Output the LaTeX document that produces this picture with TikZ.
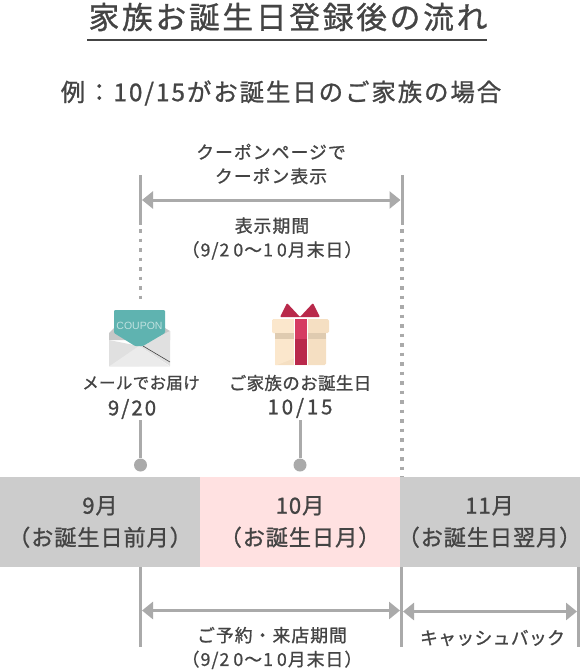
\documentclass[tikz,border=0pt]{standalone}
\usepackage{fontspec}
\setmainfont[FakeBold=0.8]{Noto Sans CJK JP}
\newfontfamily\titlefont[LetterSpace=9,FakeBold=0.9]{Noto Sans CJK JP}
\newfontfamily\subfont[LetterSpace=8,FakeBold=1]{Noto Sans CJK JP}
\newfontfamily\smallfont[LetterSpace=6,FakeBold=1]{Noto Sans CJK JP}
\newfontfamily\eventfont[LetterSpace=2,FakeBold=1]{Noto Sans CJK JP}
\newfontfamily\monthfont[LetterSpace=4,FakeBold=1]{Noto Sans CJK JP}
\newfontfamily\datefont[LetterSpace=14,FakeBold=1]{Noto Sans CJK JP}
\newfontfamily\dateshort[LetterSpace=10,FakeBold=1]{Noto Sans CJK JP}
\newfontfamily\couponfont{Liberation Sans}
\usetikzlibrary{arrows.meta}
\definecolor{ink}{HTML}{444444}
\definecolor{rulegray}{HTML}{AAAAAA}
\definecolor{bargray}{HTML}{CCCCCC}
\definecolor{barpink}{HTML}{FFE1E1}
\definecolor{teal1}{HTML}{5FB3B0}
\definecolor{gift1}{HTML}{FBE7CC}
\definecolor{gift2}{HTML}{F5DFC2}
\definecolor{gift3}{HTML}{DFCBB0}
\definecolor{ribbon}{HTML}{B9294B}
\definecolor{ribbonl}{HTML}{D63C62}
\tikzset{
  x=1pt,y=-1pt,
  small/.style={text=ink,font=\smallfont\fontsize{17.8}{24}\selectfont,align=center,inner sep=0pt},
  event/.style={text=ink,font=\eventfont\fontsize{17.5}{20}\selectfont,align=center,inner sep=0pt},
  month/.style={text=ink,font=\monthfont\fontsize{22.2}{32}\selectfont,align=center,inner sep=0pt},
  bar/.style={inner sep=0pt,minimum height=90pt,anchor=north west},
  vline/.style={draw=rulegray,line width=3pt},
  dotline/.style={draw=rulegray,line width=3.5pt,dash pattern=on 3.5pt off 6pt},
  span/.style={draw=rulegray,line width=3pt,{Triangle[length=11pt,width=17pt]}-{Triangle[length=11pt,width=17pt]}},
  pin/.style={circle,fill=rulegray,minimum size=13pt,inner sep=0pt},
}
\begin{document}
\begin{tikzpicture}
\useasboundingbox (0,0) rectangle (580,670);
% title
\node[inner sep=0pt,text=ink,font=\titlefont\fontsize{30.7}{32}\selectfont] (title) at (288,17) {家族お誕生日登録後の流れ};
\coordinate (tl) at (87,40); \coordinate (tr) at (487,40);
\draw[draw=ink,line width=1.5pt] (tl) -- (tr);
\node[inner sep=0pt,text=ink,font=\subfont\fontsize{24.4}{26}\selectfont] (sub) at (281,93) {例：10/15がお誕生日のご家族の場合};
% bars
\node[bar,fill=bargray,minimum width=200pt] (sep) at (0,477) {};
\node[bar,fill=barpink,minimum width=200pt] (oct) at (200,477) {};
\node[bar,fill=bargray,minimum width=180pt] (nov) at (400,477) {};
\node[month] (m9) at (100,522) {9月\\（お誕生日前月）};
\node[month] (m10) at (300,522) {10月\\（お誕生日月）};
\node[month] (m11) at (489.5,522) {11月\\（お誕生日翌月）};
% top guides
\coordinate (a1) at (140.5,175); \coordinate (a2) at (140.5,225); \coordinate (a3) at (140.5,229); \coordinate (a4) at (140.5,302);
\coordinate (b1) at (402,175); \coordinate (b2) at (402,225); \coordinate (b3) at (402,229); \coordinate (b4) at (402,477);
\draw[vline] (a1) -- (a2); \draw[vline] (b1) -- (b2);
\draw[dotline] (a3) -- (a4); \draw[dotline] (b3) -- (b4);
\coordinate (sl) at (142,200); \coordinate (sr) at (400.5,200);
\draw[span] (sl) -- (sr);
\node[small] (lab1) at (271,164) {クーポンページで\\クーポン表示};
\node[small] (lab2) at (272,238.5) {表示期間\\（9/\kern1pt 2\kern4pt 0\kern1pt ～\kern1pt 1\kern4pt 0月末日）};
% envelope
\fill[black!22] (109,333) -- (114,328) -- (165,328) -- (170,331) -- (170,340) -- (109,340) -- cycle;
\fill[black!12] (139,346) -- (170,331) -- (170,366) -- cycle;
\fill[black!12] (109,340) -- (139,346) -- (139,366) -- (109,366) -- cycle;
\fill[black!8] (109,366.5) -- (139,346) -- (170,366.5) -- cycle;
\draw[ink,line width=.6pt] (143,346) -- (170,362);
\fill[teal1,rounded corners=1pt] (114,310) -- (165,310) -- (165,333) -- (143,346) -- (135,346) -- (114,333) -- cycle;
\node[inner sep=0pt,text=white!60!teal1,font=\couponfont\fontsize{10.5}{11}\selectfont] (coupon) at (139.5,325.5) {COUPON};
% gift
\fill[ribbon,rounded corners=1pt] (280,317) -- (287,303) -- (300,317) -- (313,303) -- (320,317) -- cycle;
\fill[gift2,rounded corners=1.5pt] (275,333) rectangle (326,365);
\fill[gift1] (275,333) -- (295,333) -- (295,358) -- (277,365) -- (275,365) -- cycle;
\fill[gift2,rounded corners=1.5pt] (272,319) rectangle (329,333);
\fill[gift1,rounded corners=1.5pt] (272,319) -- (295,319) -- (295,333) -- (272,333) -- cycle;
\fill[gift3] (275,333) rectangle (326,339);
\fill[white] (294,319) rectangle (307.5,365);
\fill[ribbonl] (295,319) rectangle (306.5,339);
\fill[ribbon] (295,339) rectangle (306.5,365);
% event labels
\node[event,font=\eventfont\fontsize{16.5}{20}\selectfont] (ev1) at (141,383) {メールでお届け};
\node[inner sep=0pt,text=ink,font=\dateshort\fontsize{20.5}{22}\selectfont] (d1) at (132,409) {9/2\kern2pt 0};
\node[event] (ev2) at (300,383) {ご家族のお誕生日};
\node[inner sep=0pt,text=ink,font=\datefont\fontsize{20.5}{22}\selectfont] (d2) at (300,408) {10/15};
% pins
\node[pin] (p1) at (140.5,465) {};
\node[pin] (p2) at (300,465) {};
\coordinate (s1) at (140.5,420); \coordinate (s2) at (300,420);
\draw[draw=rulegray,line width=3pt] (s1) -- (p1);
\draw[draw=rulegray,line width=3pt] (s2) -- (p2);
% bottom guides
\coordinate (c1) at (140.5,567); \coordinate (c2) at (140.5,647);
\coordinate (d1b) at (401.5,567); \coordinate (d2b) at (401.5,647);
\coordinate (e1) at (578.5,567); \coordinate (e2) at (578.5,647);
\draw[vline] (c1) -- (c2); \draw[vline] (d1b) -- (d2b); \draw[vline] (e1) -- (e2);
\coordinate (f1) at (142,610.5); \coordinate (f2) at (400,610.5);
\coordinate (g1) at (403,611.5); \coordinate (g2) at (577,611.5);
\draw[span] (f1) -- (f2);
\draw[span] (g1) -- (g2);
\node[small] (lab3) at (272,648) {ご予約・来店期間\\（9/\kern1pt 2\kern4pt 0\kern1pt ～\kern1pt 1\kern4pt 0月末日）};
\node[event,font=\eventfont\fontsize{17.8}{20}\selectfont] (lab4) at (492.5,638) {キャッシュバック};
\end{tikzpicture}
\end{document}
